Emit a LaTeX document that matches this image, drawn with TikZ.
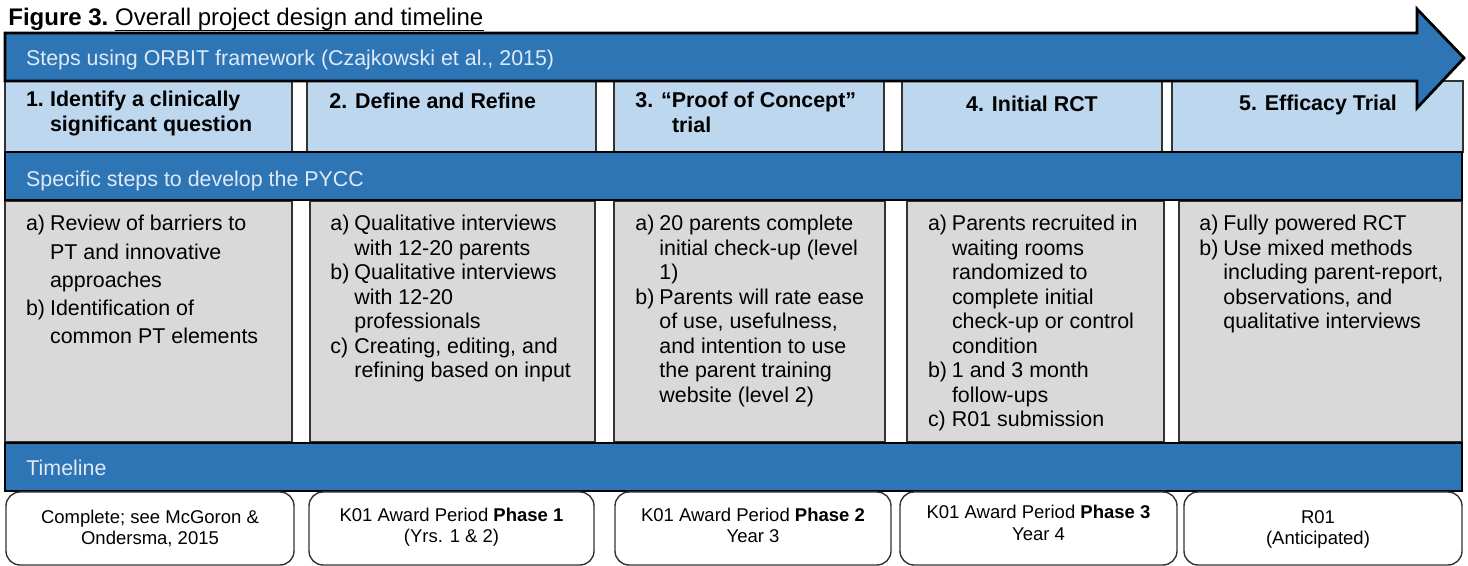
\documentclass[tikz,border=0pt]{standalone}
\usepackage{fontspec}
\setmainfont{Liberation Sans}
\usetikzlibrary{calc}
\definecolor{bandblue}{RGB}{46,117,182}
\definecolor{hdrblue}{RGB}{189,215,238}
\definecolor{cellgray}{RGB}{217,217,217}
\definecolor{bandtext}{RGB}{224,234,246}
\newcommand{\mylbl}[1]{\makebox[12pt][l]{#1}}
\newcommand{\myind}{\hspace*{12pt}}
\tikzset{
  hdrcell/.style={fill=hdrblue, draw=black!80, line width=0.6pt},
  graycell/.style={fill=cellgray, draw=black!80, line width=0.6pt},
  band/.style={fill=bandblue, draw=black, line width=1.4pt},
  tlbox/.style={fill=white, draw=black!80, line width=0.7pt, rounded corners=7pt},
  bandlabel/.style={anchor=base west, inner sep=0, text=bandtext, font=\fontsize{10.7}{12.8}\selectfont},
  hdrtext/.style={inner sep=0, font=\bfseries\fontsize{10.7}{12.6}\selectfont, text=black},
  bodytext/.style={anchor=north west, inner sep=0, align=left, font=\fontsize{10.7}{12.25}\selectfont},
  tltext/.style={anchor=north, inner sep=0, align=center, font=\fontsize{9.25}{10.8}\selectfont},
}
\begin{document}
\begin{tikzpicture}[x=0.5pt,y=-0.5pt]
\useasboundingbox (0,0) rectangle (1468,566);
% header row
\draw[hdrcell] (5,81) rectangle (292,152);
\draw[hdrcell] (307,81) rectangle (596,152);
\draw[hdrcell] (614,81) rectangle (884,152);
\draw[hdrcell] (902,81) rectangle (1162,152);
\draw[hdrcell] (1172,81) rectangle (1463,152);
% gray row
\draw[graycell] (5,201) rectangle (292,442);
\draw[graycell] (310,201) rectangle (595,442);
\draw[graycell] (614,201) rectangle (885,442);
\draw[graycell] (907,201) rectangle (1164,442);
\draw[graycell] (1179,201) rectangle (1462,442);
% bands
\draw[band] (5,152) rectangle (1462,200);
\draw[band] (5,443) rectangle (1462,491);
% timeline boxes
\draw[tlbox] (6,492) rectangle (294,565);
\draw[tlbox] (309,492) rectangle (594,565);
\draw[tlbox] (615,492) rectangle (891,565);
\draw[tlbox] (900,492) rectangle (1177,565);
\draw[tlbox] (1184,492) rectangle (1462,565);
% big arrow
\draw[band, line join=miter] (5,33) -- (1417,33) -- (1417,9) -- (1464,58) -- (1417,108) -- (1417,81) -- (5,81) -- cycle;
% title
\node[anchor=base west, inner sep=0, font=\bfseries\fontsize{12}{14}\selectfont] (fig) at (8,26) {Figure 3.};
\node[anchor=base west, inner sep=0, font=\fontsize{12}{14}\selectfont] (ttl) at (114.7,26) {Overall project design and timeline};
\draw[line width=0.7pt] ($(ttl.base west)+(0,4.5)$) -- ($(ttl.base east)+(0,4.5)$);
% band labels
\node[bandlabel] (orbit) at (25.7,66) {Steps using ORBIT framework (Czajkowski et al., 2015)};
\node[bandlabel] (pycc) at (25.7,187) {Specific steps to develop the PYCC};
\node[bandlabel] (tline) at (26,475.5) {Timeline};
% headers
\node[hdrtext, anchor=north west, align=left] (h1) at (25.7,90) {\rule{0pt}{8pt}\mylbl{1.}Identify a clinically\\\myind significant question};
\node[hdrtext, anchor=base west] (h2) at (329,108.3) {2. Define and Refine};
\node[hdrtext, anchor=north west, align=left] (h3) at (635,90.7) {\rule{0pt}{8pt}3. “Proof of Concept”\\\hspace*{18.3pt}trial};
\node[hdrtext, anchor=base] (h4) at (1032,111.7) {4. Initial RCT};
\node[hdrtext, anchor=base] (h5) at (1318,111) {5. Efficacy Trial};
% body
\node[bodytext, font=\fontsize{10.7}{14.1}\selectfont] (b1) at (25.7,214.5) {\rule{0pt}{8pt}\mylbl{a)}Review of barriers to\\\myind PT and innovative\\\myind approaches\\\mylbl{b)}Identification of\\\myind common PT elements};
\node[bodytext] (b2) at (330,214.5) {\rule{0pt}{8pt}\mylbl{a)}Qualitative interviews\\\myind with 12-20 parents\\\mylbl{b)}Qualitative interviews\\\myind with 12-20\\\myind professionals\\\mylbl{c)}Creating, editing, and\\\myind refining based on input};
\node[bodytext] (b3) at (635,214.5) {\rule{0pt}{8pt}\mylbl{a)}20 parents complete\\\myind initial check-up (level\\\myind 1)\\\mylbl{b)}Parents will rate ease\\\myind of use, usefulness,\\\myind and intention to use\\\myind the parent training\\\myind website (level 2)};
\node[bodytext] (b4) at (927.6,214.5) {\rule{0pt}{8pt}\mylbl{a)}Parents recruited in\\\myind waiting rooms\\\myind randomized to\\\myind complete initial\\\myind check-up or control\\\myind condition\\\mylbl{b)}1 and 3 month\\\myind follow-ups\\\mylbl{c)}R01 submission};
\node[bodytext] (b5) at (1199,214.5) {\rule{0pt}{8pt}\mylbl{a)}Fully powered RCT\\\mylbl{b)}Use mixed methods\\\myind including parent-report,\\\myind observations, and\\\myind qualitative interviews};
% timeline texts
\node[tltext] (t1) at (150,508.7) {\rule{0pt}{7pt}Complete; see McGoron \&\\Ondersma, 2015};
\node[tltext] (t2) at (451.5,507) {\rule{0pt}{7pt}K01 Award Period \textbf{Phase 1}\\(Yrs. 1 \& 2)};
\node[tltext] (t3) at (753,507) {\rule{0pt}{7pt}K01 Award Period \textbf{Phase 2}\\Year 3};
\node[tltext] (t4) at (1038.5,504.3) {\rule{0pt}{7pt}K01 Award Period \textbf{Phase 3}\\Year 4};
\node[tltext] (t5) at (1318,508.7) {\rule{0pt}{7pt}R01\\(Anticipated)};
\end{tikzpicture}
\end{document}
